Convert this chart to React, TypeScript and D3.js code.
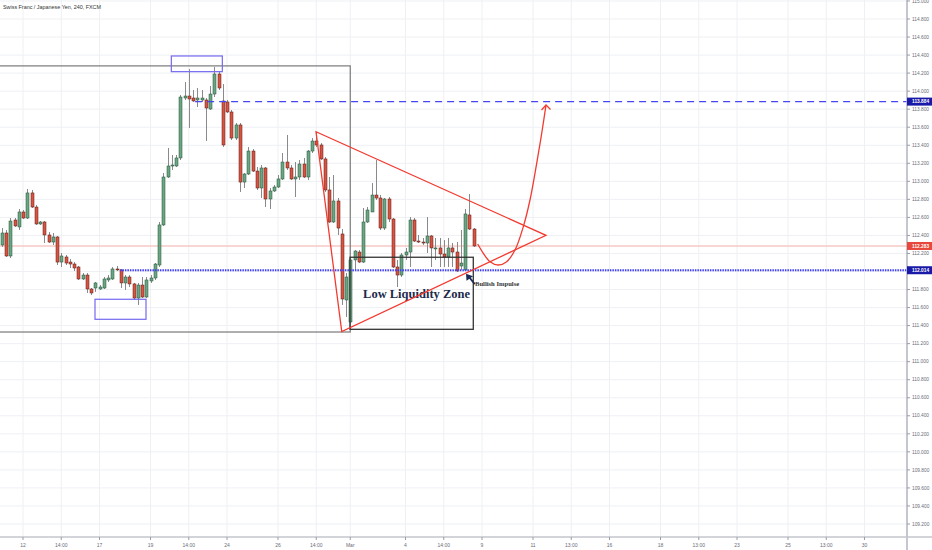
import * as d3 from 'd3'

// CHF/JPY 4h candles, bar index -5 .. 106 (6 bars per trading day)
const firstBar = -5
const opens = [
  112.294, 112.427, 112.172, 112.571, 112.494, 112.66, 112.593, 112.871, 112.715, 112.527,
  112.549, 112.405, 112.327, 112.383, 112.105, 112.161, 112.105, 112.083, 112.05, 111.917,
  111.961, 111.806, 111.817, 111.806, 111.817, 111.906, 111.917, 112.028, 112.017, 111.873,
  111.939, 111.862, 111.706, 111.85, 111.717, 111.895, 111.928, 112.072, 112.516, 113.048,
  113.17, 113.17, 113.259, 113.924, 113.946, 113.924, 113.902, 113.902, 113.902, 113.802,
  113.968, 114.19, 113.891, 113.88, 113.769, 113.48, 113.625, 112.992, 113.081, 113.336,
  113.114, 112.926, 113.148, 112.804, 112.893, 112.937, 113.026, 113.214, 113.148, 113.026,
  113.048, 113.192, 113.048, 113.336, 113.447, 113.403, 113.248, 112.904, 112.549, 112.782,
  112.416, 111.684, 111.44, 112.128, 112.216, 112.105, 112.549, 112.66, 112.848, 112.815,
  112.482, 112.804, 112.582, 112.05, 111.961, 112.183, 112.216, 112.571, 112.338, 112.327,
  112.316, 112.394, 112.25, 112.261, 112.194, 112.161, 112.261, 112.216, 112.061, 112.017,
  112.627, 112.471,
]
const highs = [
  112.482, 112.46, 112.593, 112.593, 112.693, 112.682, 112.915, 112.904, 112.737, 112.56,
  112.56, 112.438, 112.427, 112.394, 112.205, 112.183, 112.139, 112.105, 112.061, 111.983,
  111.983, 111.817, 111.884, 111.85, 111.939, 111.961, 112.05, 112.061, 112.028, 111.961,
  111.961, 111.873, 111.873, 111.939, 111.939, 111.961, 112.094, 112.549, 113.092, 113.37,
  113.292, 113.292, 113.957, 114.101, 114.246, 114.013, 114.035, 114.013, 113.924, 114.057,
  114.268, 114.223, 114.079, 113.902, 113.791, 113.647, 113.647, 113.092, 113.381, 113.358,
  113.159, 113.181, 113.159, 112.926, 112.959, 113.07, 113.314, 113.514, 113.181, 113.214,
  113.236, 113.259, 113.347, 113.48, 113.547, 113.425, 113.27, 113.048, 113.07, 112.815,
  112.471, 111.983, 112.183, 112.238, 112.238, 112.704, 112.715, 112.981, 113.236, 112.848,
  112.815, 112.826, 112.593, 112.128, 112.205, 112.261, 112.604, 112.593, 112.405, 112.372,
  112.604, 112.405, 112.372, 112.372, 112.349, 112.372, 112.316, 112.327, 112.46, 112.693,
  112.859, 112.482,
]
const lows = [
  112.272, 112.161, 112.15, 112.494, 112.46, 112.582, 112.582, 112.704, 112.516, 112.516,
  112.316, 112.316, 112.294, 112.072, 112.05, 112.072, 112.039, 112.006, 111.906, 111.906,
  111.762, 111.74, 111.773, 111.795, 111.806, 111.884, 111.906, 112.006, 111.817, 111.795,
  111.828, 111.684, 111.629, 111.706, 111.706, 111.873, 111.906, 112.05, 112.505, 113.037,
  113.126, 113.159, 113.236, 113.902, 113.591, 113.88, 113.824, 113.88, 113.447, 113.791,
  113.935, 114.013, 113.381, 113.758, 113.458, 113.458, 112.882, 112.926, 113.07, 113.103,
  112.904, 112.815, 112.715, 112.693, 112.882, 112.926, 113.015, 113.126, 113.015, 112.826,
  113.015, 113.037, 113.015, 113.314, 113.381, 113.236, 112.882, 112.538, 112.538, 112.405,
  111.629, 111.495, 111.362, 112.017, 112.094, 112.094, 112.538, 112.66, 112.793, 112.46,
  112.46, 112.549, 112.039, 111.828, 111.939, 112.128, 112.05, 112.327, 112.316, 112.294,
  112.205, 112.05, 112.128, 112.05, 112.05, 112.05, 112.05, 111.994, 112.017, 112.017,
  112.46, 112.272,
]
const closes = [
  112.427, 112.172, 112.56, 112.505, 112.66, 112.593, 112.871, 112.715, 112.527, 112.549,
  112.405, 112.327, 112.383, 112.105, 112.172, 112.094, 112.083, 112.039, 111.917, 111.961,
  111.806, 111.762, 111.873, 111.828, 111.917, 111.928, 112.028, 112.017, 111.873, 111.939,
  111.862, 111.706, 111.85, 111.717, 111.906, 111.928, 112.083, 112.516, 113.048, 113.17,
  113.181, 113.259, 113.935, 113.946, 113.913, 113.891, 113.924, 113.924, 113.813, 113.968,
  114.19, 114.035, 113.403, 113.769, 113.48, 113.625, 112.992, 113.081, 113.336, 113.114,
  112.926, 113.148, 112.804, 112.893, 112.937, 113.026, 113.214, 113.148, 113.026, 113.048,
  113.192, 113.048, 113.336, 113.447, 113.403, 113.248, 112.904, 112.549, 112.782, 112.482,
  111.695, 111.939, 112.128, 112.227, 112.105, 112.549, 112.682, 112.848, 112.815, 112.482,
  112.804, 112.582, 112.05, 111.961, 112.183, 112.216, 112.571, 112.338, 112.327, 112.316,
  112.394, 112.261, 112.261, 112.194, 112.161, 112.261, 112.216, 112.006, 112.094, 112.638,
  112.471, 112.283,
]

// time axis labels at bar indexes
const timeLabels = ['12', '14:00', '17', '19', '14:00', '24', '26', '14:00', 'Mar', '4', '14:00', '9', '11', '13:00', '16', '18', '13:00', '23', '25', '13:00', '30']
const timeBars = [0, 9, 18, 30, 39, 48, 60, 69, 77, 90, 99, 108, 120, 129, 138, 150, 159, 168, 180, 189, 198]

const lastPrice = 112.283
const resistance = 113.884
const support = 112.014

// drawings (bar index, price)
const triangleBars = [68.94, 75.0, 123.06]
const trianglePrices = [113.55, 111.333, 112.401]
const pathBars = [106.99, 108.31, 109.88, 111.84, 113.81, 115.76, 117.72, 119.29, 120.87, 122.05, 123.06]
const pathPrices = [112.305, 112.202, 112.109, 112.072, 112.109, 112.238, 112.497, 112.793, 113.2, 113.533, 113.846]

const W = 932
const H = 550
const plotR = 907
const plotB = 537

const upFill = '#6ba583'
const upLine = '#225437'
const downFill = '#d75442'
const downLine = '#5b1a13'

export default function App() {
  const x = d3.scaleLinear().domain([-5.412, 208]).range([0, plotR])
  const y = d3.scaleLinear().domain([109.2, 114.8]).range([524, 19])
  const bw = 3

  const priceTicks = d3.range(0, 30).map(k => +(109.2 + k * 0.2).toFixed(1))
  const candles = opens.map((o, k) => ({
    i: firstBar + k,
    o,
    h: highs[k],
    l: lows[k],
    c: closes[k],
  }))

  const line = d3
    .line<number>()
    .x((_, k) => x(pathBars[k]))
    .y(d => y(d))
    .curve(d3.curveCatmullRom)

  const tri = triangleBars.map((b, k) => [x(b), y(trianglePrices[k])])
  const tip = [x(pathBars[pathBars.length - 1]), y(pathPrices[pathPrices.length - 1])]
  const head = [x(104.24), y(111.975)]

  const axisFont = "'Liberation Sans', Arial, sans-serif"
  const serif = "'Liberation Serif', 'Times New Roman', serif"

  const priceBox = (p: number, fill: string) => (
    <g key={'box' + p}>
      <rect x={plotR} y={y(p) - 4} width={W - plotR} height={8} fill={fill} />
      <text x={plotR + 5} y={y(p) + 1.8} fontSize={4.8} fill="#fff" fontWeight="bold" fontFamily={axisFont}>
        {p.toFixed(3)}
      </text>
    </g>
  )

  return (
    <svg width={W} height={H} style={{ position: 'absolute', left: 0, top: 0, background: '#fff' }}>
      <rect width={W} height={H} fill="#fff" />
      {/* grid */}
      {priceTicks.map(p => (
        <line key={'h' + p} x1={0} x2={plotR} y1={y(p)} y2={y(p)} stroke="#eef0f4" />
      ))}
      {timeBars.map((b, k) => (
        <line key={'v' + k} x1={x(b)} x2={x(b)} y1={0} y2={plotB} stroke="#eef0f4" />
      ))}

      {/* last price line */}
      <line x1={0} x2={plotR} y1={y(lastPrice)} y2={y(lastPrice)} stroke="#f6c9c4" strokeWidth={1.5} />

      {/* big range box */}
      <rect x={x(-10)} y={y(114.28)} width={x(77) - x(-10)} height={y(111.329) - y(114.28)} fill="none" stroke="#7a7a7a" strokeWidth={1.2} />

      {/* candles */}
      {candles.map(d => {
        const up = d.c >= d.o
        const top = y(Math.max(d.o, d.c))
        const bot = y(Math.min(d.o, d.c))
        const cx = Math.round(x(d.i)) + 0.5
        return (
          <g key={d.i}>
            <line x1={cx} x2={cx} y1={y(d.h)} y2={y(d.l)} stroke="#8a8a8c" strokeWidth={1} />
            <rect
              x={cx - bw / 2}
              y={top}
              width={bw}
              height={Math.max(1, bot - top)}
              fill={up ? upFill : downFill}
              stroke={up ? upLine : downLine}
              strokeWidth={0.5}
            />
          </g>
        )
      })}

      {/* blue boxes */}
      <rect x={x(34.9)} y={y(114.39)} width={x(46.9) - x(34.9)} height={y(114.216) - y(114.39)} fill="none" stroke="#7468f0" strokeWidth={1.2} />
      <rect x={x(16.94)} y={y(111.692)} width={x(28.94) - x(16.94)} height={y(111.47) - y(111.692)} fill="none" stroke="#7468f0" strokeWidth={1.2} />

      {/* horizontal levels */}
      <line x1={x(40.5)} x2={plotR} y1={y(resistance)} y2={y(resistance)} stroke="#4646f2" strokeWidth={1.3} strokeDasharray="7 5" />
      <line x1={x(22.8)} x2={plotR} y1={y(support)} y2={y(support)} stroke="#3d3df5" strokeWidth={1.8} strokeDasharray="1.5 1" />

      {/* low liquidity zone */}
      <rect x={x(76.94)} y={y(112.158)} width={x(105.95) - x(76.94)} height={y(111.359) - y(112.158)} fill="none" stroke="#333" strokeWidth={1.3} />
      <text x={x(92.6)} y={y(111.706)} textAnchor="middle" fontFamily={serif} fontWeight="bold" fontSize={12.5} fill="#1d2a4a">
        Low Liquidity Zone
      </text>

      {/* triangle */}
      <polygon points={tri.map(p => p.join(',')).join(' ')} fill="none" stroke="#f23b30" strokeWidth={1.3} />

      {/* projected path */}
      <path d={line(pathPrices) || ''} fill="none" stroke="#f23b30" strokeWidth={1.3} />
      <path
        d={`M${tip[0] - 4.5},${tip[1] + 5} L${tip[0]},${tip[1]} L${tip[0] + 4.5},${tip[1] + 4.5}`}
        fill="none"
        stroke="#f23b30"
        strokeWidth={1.3}
      />

      {/* bullish impulse */}
      <line x1={x(106.3)} y1={y(111.86)} x2={head[0] + 2} y2={head[1] + 2} stroke="#1d2a55" strokeWidth={1.8} />
      <polygon
        points={`${head[0]},${head[1]} ${head[0] + 0.5},${head[1] + 7} ${head[0] + 7},${head[1] + 2.5}`}
        fill="#1d2a55"
      />
      <text x={x(106.35)} y={y(111.839)} fontFamily={serif} fontWeight="bold" fontSize={6.6} fill="#333">
        Bullish Impulse
      </text>

      {/* axes */}
      <line x1={plotR} x2={plotR} y1={0} y2={H} stroke="#b2b5be" strokeWidth={1.5} />
      <line x1={0} x2={W} y1={plotB} y2={plotB} stroke="#c4c6cc" strokeWidth={1.5} />
      {priceTicks.map(p => (
        <g key={'pt' + p}>
          <line x1={plotR} x2={plotR + 3} y1={y(p)} y2={y(p)} stroke="#9a9da6" />
          <text x={plotR + 5} y={y(p) + 1.7} fontSize={4.8} fill="#6a6d78" fontFamily={axisFont}>
            {p.toFixed(3)}
          </text>
        </g>
      ))}
      {timeBars.map((b, k) => (
        <g key={'tt' + k}>
          <line x1={x(b)} x2={x(b)} y1={plotB} y2={plotB + 3} stroke="#9a9da6" />
          <text x={x(b)} y={plotB + 10} textAnchor="middle" fontSize={5} fill="#6a6d78" fontFamily={axisFont}>
            {timeLabels[k]}
          </text>
        </g>
      ))}
      {priceBox(resistance, '#1a1aa8')}
      {priceBox(lastPrice, '#e8483b')}
      {priceBox(support, '#1a1aa8')}

      {/* title */}
      <text x={3} y={9} fontSize={5.4} fill="#333" fontFamily={axisFont}>
        Swiss Franc / Japanese Yen, 240, FXCM
      </text>
    </svg>
  )
}
